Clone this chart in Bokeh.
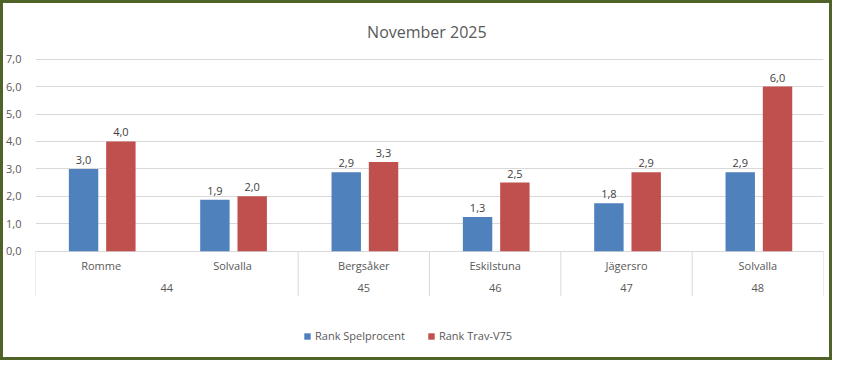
from decimal import Decimal, ROUND_HALF_UP
from bokeh.plotting import figure
from bokeh.models import ColumnDataSource, FixedTicker, Legend, LegendItem
from bokeh.transform import dodge
from bokeh.core.properties import value
from bokeh.embed import file_html
from bokeh.resources import INLINE

title = "November 2025"
venues = ["Romme", "Solvalla", "Bergsåker", "Eskilstuna", "Jägersro", "Solvalla"]
weeks = ["44", "44", "45", "46", "47", "48"]
spelprocent = [3.0, 1.875, 2.875, 1.25, 1.75, 2.875]
trav_v75 = [4.0, 2.0, 3.25, 2.5, 2.875, 6.0]
y_ticks = [0, 1, 2, 3, 4, 5, 6, 7]
series_names = ["Rank Spelprocent", "Rank Trav-V75"]

BLUE = "#4F81BD"
RED = "#C0504D"
GRID = "#D9D9D9"
TXT = "#595959"
FONT = "Open Sans"


def fmt(v):
    return str(Decimal(str(v)).quantize(Decimal("0.1"), rounding=ROUND_HALF_UP)).replace(".", ",")


n = len(venues)
src = ColumnDataSource(dict(
    x=[i + 0.5 for i in range(n)],
    venue=venues,
    spel=spelprocent,
    trav=trav_v75,
    spel_lbl=[fmt(v) for v in spelprocent],
    trav_lbl=[fmt(v) for v in trav_v75],
))

# week groups
bounds = [0]
for i in range(1, n):
    if weeks[i] != weeks[i - 1]:
        bounds.append(i)
bounds.append(n)
group_x = [(bounds[k] + bounds[k + 1]) / 2 for k in range(len(bounds) - 1)]
group_lbl = [weeks[bounds[k]] for k in range(len(bounds) - 1)]

p = figure(width=832, height=360, x_range=(0, n), y_range=(-4.094, 9.03),
           output_backend="svg", toolbar_location=None,
           min_border_left=32, min_border_right=12, min_border_top=0, min_border_bottom=0)
p.styles = {"border": "3px solid #4F6228"}
p.outline_line_color = None
p.background_fill_color = "white"
p.border_fill_color = "white"

p.xaxis.visible = False
p.xgrid.visible = False
p.ygrid.ticker = FixedTicker(ticks=y_ticks)
p.ygrid.grid_line_color = GRID
p.ygrid.grid_line_width = 1

ax = p.yaxis[0]
ax.ticker = FixedTicker(ticks=y_ticks)
ax.major_label_overrides = {t: fmt(t) for t in y_ticks}
ax.axis_line_color = None
ax.major_tick_line_color = None
ax.minor_tick_line_color = None
ax.major_label_text_font = FONT
ax.major_label_text_font_size = "11px"
ax.major_label_text_color = TXT
ax.major_label_standoff = 8

W = 0.224
r1 = p.vbar(x=dodge("x", -0.134, range=p.x_range), top="spel", width=W, bottom=0,
            source=src, fill_color=BLUE, line_color=None)
r2 = p.vbar(x=dodge("x", 0.150, range=p.x_range), top="trav", width=W, bottom=0,
            source=src, fill_color=RED, line_color=None)

p.text(x=dodge("x", -0.134, range=p.x_range), y="spel", text="spel_lbl", source=src,
       y_offset=-5, text_align="center", text_baseline="bottom",
       text_font=value(FONT), text_font_size="11px", text_color="#404040")
p.text(x=dodge("x", 0.150, range=p.x_range), y="trav", text="trav_lbl", source=src,
       y_offset=-5, text_align="center", text_baseline="bottom",
       text_font=value(FONT), text_font_size="11px", text_color="#404040")

# category axis drawn in frame below zero
p.segment(x0=bounds, y0=[0] * len(bounds), x1=bounds, y1=[-1.645] * len(bounds),
          line_color=GRID, line_width=1)
p.text(x="x", y=-0.52, text="venue", source=src, text_align="center", text_baseline="middle",
       text_font=value(FONT), text_font_size="11px", text_color=TXT)
p.text(x=group_x, y=[-1.33] * len(group_x), text=group_lbl, text_align="center",
       text_baseline="middle", text_font=value(FONT), text_font_size="11px", text_color=TXT)

# title
p.text(x=[n / 2 - 0.02], y=[8.0], text=[title], text_align="center", text_baseline="middle",
       text_font=value(FONT), text_font_size="16px", text_color=TXT)

legend = Legend(items=[LegendItem(label=series_names[0], renderers=[r1]),
                       LegendItem(label=series_names[1], renderers=[r2])],
                location=(268, 20), orientation="horizontal",
                glyph_width=8, glyph_height=8, label_standoff=4, spacing=22,
                padding=0, margin=0, border_line_color=None, background_fill_alpha=0,
                label_text_font=FONT, label_text_font_size="11px", label_text_color=TXT,
                label_height=12)
p.add_layout(legend, "center")

open("out.html", "w").write(file_html(p, INLINE))
